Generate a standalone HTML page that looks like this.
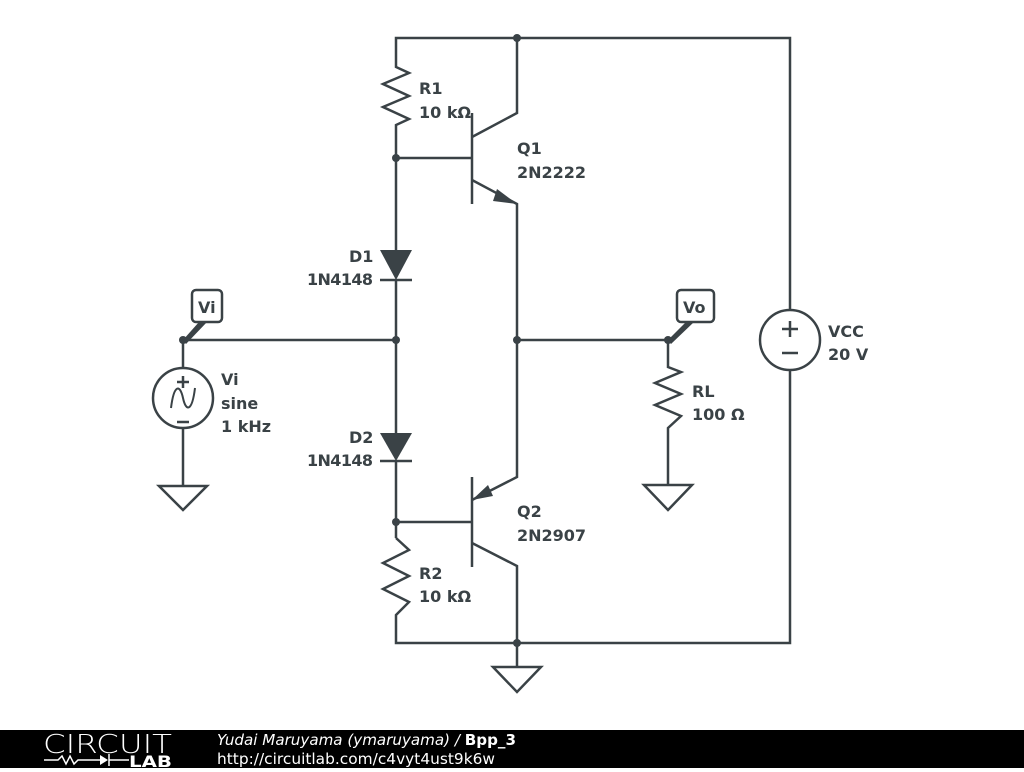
<!DOCTYPE html>
<html><head><style>
body{margin:0;width:1024px;height:768px;background:#fff;overflow:hidden;font-family:"DejaVu Sans",sans-serif}
svg text{font-family:"DejaVu Sans",sans-serif;font-weight:bold;font-size:16px;fill:#3a4246}
</style></head><body>
<svg width="1024" height="768" viewBox="0 0 1024 768" xmlns="http://www.w3.org/2000/svg">
<g stroke="#3a4246" stroke-width="2.5" fill="none" stroke-linejoin="miter">
<polyline points="396,62 396,38 790,38 790,310"/>
<polyline points="517,38 517,113 472,137"/>
<polyline points="396,62 396,67 409,73 383,84 409,96 383,107 409,119 396,125 396,130 396,250"/>
<line x1="396" y1="158" x2="472" y2="158"/>
<line x1="472" y1="113" x2="472" y2="204"/>
<polyline points="472,180 517,204 517,477 472,500"/>
<line x1="380" y1="280" x2="412" y2="280"/>
<line x1="396" y1="280" x2="396" y2="433"/>
<line x1="380" y1="461" x2="412" y2="461"/>
<line x1="396" y1="461" x2="396" y2="538"/>
<line x1="396" y1="522" x2="472" y2="522"/>
<line x1="472" y1="477" x2="472" y2="567"/>
<polyline points="472,543 517,566 517,668"/>
<polyline points="396,538 409,550 383,563 409,576 383,589 409,602 396,615 396,643 790,643 790,370"/>
<line x1="183" y1="340" x2="396" y2="340"/>
<line x1="517" y1="340" x2="668" y2="340"/>
<polyline points="668,340 668,367 681,372 655,383 681,394 655,405 681,416 668,428 668,485"/>
<line x1="183" y1="340" x2="183" y2="368"/>
<circle cx="183" cy="398" r="30"/>
<line x1="183" y1="428" x2="183" y2="486"/>
<line x1="183" y1="376" x2="183" y2="388"/><line x1="177" y1="382" x2="189" y2="382"/>
<line x1="177" y1="422" x2="189" y2="422"/>
<path d="M171,408 C174,384 180,384 183,398 C186,412 192,412 195,388" stroke-width="2"/>
<circle cx="790" cy="340" r="30"/>
<line x1="790" y1="321" x2="790" y2="337"/><line x1="782" y1="329" x2="798" y2="329"/>
<line x1="782" y1="353" x2="798" y2="353"/>
<polygon points="159,486 207,486 183,510"/>
<polygon points="644,485 692,485 668,510"/>
<polygon points="493,667 541,667 517,692"/>
<rect x="192" y="290" width="30" height="32" rx="4"/>
<rect x="677" y="290" width="37" height="32" rx="4"/>
</g>
<g fill="#3a4246">
<polygon points="380,250 412,250 396,280"/>
<polygon points="380,433 412,433 396,461"/>
<polygon points="517,204 497,189 493,201"/>
<polygon points="472,500 488,485 493,496"/>
<polygon points="183,340 199,322 207,322 186,344"/>
<polygon points="668,340 686,322 694,322 671,344"/>
<circle cx="517" cy="38" r="4"/><circle cx="396" cy="158" r="4"/><circle cx="396" cy="340" r="4"/>
<circle cx="517" cy="340" r="4"/><circle cx="183" cy="340" r="4"/><circle cx="668" cy="340" r="4"/>
<circle cx="396" cy="522" r="4"/><circle cx="517" cy="643" r="4"/>
</g>
<text x="419" y="94">R1</text><text x="419" y="118">10 kΩ</text>
<text x="517" y="154">Q1</text><text x="517" y="178">2N2222</text>
<text x="349" y="262">D1</text><text x="307" y="285" textLength="66">1N4148</text>
<text x="349" y="443">D2</text><text x="307" y="466" textLength="66">1N4148</text>
<text x="517" y="517">Q2</text><text x="517" y="541">2N2907</text>
<text x="419" y="579">R2</text><text x="419" y="602">10 kΩ</text>
<text x="221" y="385">Vi</text><text x="221" y="409">sine</text><text x="221" y="432">1 kHz</text>
<text x="692" y="397">RL</text><text x="692" y="420">100 Ω</text>
<text x="828" y="337">VCC</text><text x="828" y="360">20 V</text>
<text x="198" y="313">Vi</text><text x="683" y="313">Vo</text>
<rect x="0" y="730" width="1024" height="38" fill="#000"/>
<text x="43" y="753" style="font-weight:200;font-size:26px;fill:#fff" textLength="129" lengthAdjust="spacingAndGlyphs">CIRCUIT</text>
<polyline points="44,760 58,760 62,756 66,764 70,756 74,764 78,760 100,760" stroke="#fff" stroke-width="1.5" fill="none"/>
<polygon points="100,755 100,765 108,760" fill="#fff"/><line x1="109" y1="754" x2="109" y2="766" stroke="#fff" stroke-width="1.5"/>
<line x1="109" y1="760" x2="129" y2="760" stroke="#fff" stroke-width="1.5"/>
<text x="129" y="767" style="font-size:16px;fill:#fff" textLength="43" lengthAdjust="spacingAndGlyphs">LAB</text>
<text x="217" y="745" style="font-weight:normal;font-style:italic;font-size:15.5px;fill:#fff" textLength="299" lengthAdjust="spacingAndGlyphs">Yudai Maruyama (ymaruyama) / <tspan style="font-style:normal;font-weight:bold">Bpp_3</tspan></text>
<text x="217" y="764" style="font-weight:normal;font-size:15.5px;fill:#fff" textLength="278" lengthAdjust="spacingAndGlyphs">http://circuitlab.com/c4vyt4ust9k6w</text>
</svg>
</body></html>
